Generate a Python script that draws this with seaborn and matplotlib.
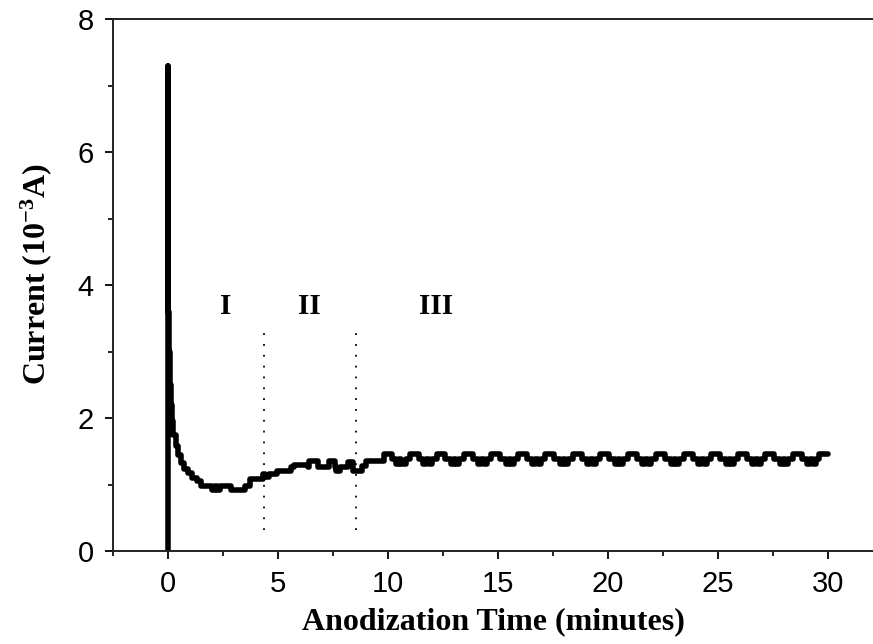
import matplotlib
matplotlib.use("Agg")
import matplotlib.pyplot as plt
import seaborn as sns
import pandas as pd
from matplotlib.ticker import MultipleLocator

# ---- data (time in minutes, current in 1e-3 A) ----
time_min = [
    0.0, 0.0, 0.02, 0.04, 0.08, 0.12, 0.18, 0.25, 0.35, 0.45, 0.6, 0.75, 0.9, 1.1, 1.3,
    1.5, 2.0, 2.15, 2.25, 2.35, 2.85, 3.5, 3.75, 4.3, 4.4, 4.6, 4.95, 5.6, 5.75,
    6.35, 6.4, 6.8, 7.3, 7.6, 7.65, 7.8, 8.2, 8.4, 8.8,
    9.0, 9.8, 10.2, 10.35, 10.5, 10.6, 10.8,
    11.0, 11.4, 11.6, 11.75, 11.85, 12.0,
    12.25, 12.6, 12.85, 13.0, 13.1, 13.25,
    13.45, 13.85, 14.1, 14.25, 14.35, 14.5,
    14.7, 15.1, 15.35, 15.5, 15.6, 15.75,
    15.9, 16.3, 16.55, 16.7, 16.8, 16.95,
    17.15, 17.55, 17.8, 17.95, 18.05, 18.2,
    18.4, 18.8, 19.05, 19.2, 19.3, 19.45,
    19.65, 20.05, 20.3, 20.45, 20.55, 20.7,
    20.9, 21.3, 21.55, 21.7, 21.8, 21.95,
    22.2, 22.6, 22.85, 23.0, 23.1, 23.25,
    23.45, 23.85, 24.1, 24.25, 24.35, 24.5,
    24.7, 25.1, 25.35, 25.5, 25.6, 25.75,
    25.9, 26.3, 26.55, 26.7, 26.8, 26.95,
    27.15, 27.55, 27.8, 27.95, 28.05, 28.2,
    28.4, 28.8, 29.05, 29.2, 29.3, 29.45,
    29.6, 30.0,
]
current = [
    0.0, 7.3, 3.6, 3.0, 2.5, 2.2, 1.95, 1.75, 1.58, 1.45, 1.33, 1.24, 1.17, 1.1, 1.05,
    0.98, 0.91, 0.98, 0.91, 0.98, 0.91, 0.98, 1.08, 1.16, 1.12, 1.16, 1.21, 1.26, 1.3,
    1.26, 1.36, 1.26, 1.36, 1.26, 1.2, 1.26, 1.34, 1.2, 1.28,
    1.35, 1.46, 1.38, 1.31, 1.38, 1.31, 1.38,
    1.46, 1.38, 1.31, 1.38, 1.31, 1.38,
    1.46, 1.38, 1.31, 1.38, 1.31, 1.38,
    1.46, 1.38, 1.31, 1.38, 1.31, 1.38,
    1.46, 1.38, 1.31, 1.38, 1.31, 1.38,
    1.46, 1.38, 1.31, 1.38, 1.31, 1.38,
    1.46, 1.38, 1.31, 1.38, 1.31, 1.38,
    1.46, 1.38, 1.31, 1.38, 1.31, 1.38,
    1.46, 1.38, 1.31, 1.38, 1.31, 1.38,
    1.46, 1.38, 1.31, 1.38, 1.31, 1.38,
    1.46, 1.38, 1.31, 1.38, 1.31, 1.38,
    1.46, 1.38, 1.31, 1.38, 1.31, 1.38,
    1.46, 1.38, 1.31, 1.38, 1.31, 1.38,
    1.46, 1.38, 1.31, 1.38, 1.31, 1.38,
    1.46, 1.38, 1.31, 1.38, 1.31, 1.38,
    1.46, 1.38, 1.31, 1.38, 1.31, 1.38,
    1.46, 1.46,
]

region_labels = ["I", "II", "III"]
region_label_x = [2.64, 6.45, 12.2]
region_label_y = [3.67, 3.67, 3.67]
boundary_x = [4.35, 8.55]
boundary_ymin, boundary_ymax = 0.32, 3.32

x_ticks = [0, 5, 10, 15, 20, 25, 30]
y_ticks = [0, 2, 4, 6, 8]

df = pd.DataFrame({"t": time_min, "I": current})

sns.set_style("ticks")
plt.rcParams["font.family"] = ["Liberation Sans", "DejaVu Sans"]
plt.rcParams.update({
    "text.color": "black", "axes.labelcolor": "black",
    "xtick.color": "black", "ytick.color": "black",
    "mathtext.fontset": "custom",
    "mathtext.rm": "Liberation Serif",
    "mathtext.bf": "Liberation Serif:bold",
    "mathtext.it": "Liberation Serif:italic",
})

fig = plt.figure(figsize=(8.73, 6.44), dpi=100)
ax = fig.add_axes([113 / 873, 1 - 551 / 644, 760 / 873, 532 / 644])

sns.lineplot(data=df, x="t", y="I", ax=ax, estimator=None, sort=False,
             color="black", linewidth=4.0, drawstyle="steps-post")

for bx in boundary_x:
    ax.plot([bx, bx], [boundary_ymin, boundary_ymax], color="black",
            linewidth=1.3, linestyle=(0, (1, 5)))

serif = ["Liberation Serif", "DejaVu Serif"]
for lab, lx, ly in zip(region_labels, region_label_x, region_label_y):
    ax.text(lx, ly, lab, ha="center", va="center", fontsize=21,
            fontweight="bold", family=serif, color="black")

ax.set_xlim(-2.5, 32.05)
ax.set_ylim(0, 8)
ax.set_xticks(x_ticks)
ax.set_yticks(y_ticks)
ax.xaxis.set_minor_locator(MultipleLocator(2.5))
ax.yaxis.set_minor_locator(MultipleLocator(1))
ax.tick_params(which="major", direction="out", length=6, width=1.3,
               labelsize=21, color="black", labelcolor="black", pad=8)
ax.tick_params(which="minor", direction="out", length=3.5, width=1.2, color="black")

for side in ["left", "bottom", "top"]:
    ax.spines[side].set_linewidth(1.4)
    ax.spines[side].set_color("#222222")
ax.spines["right"].set_visible(False)

ax.set_xlabel("Anodization Time (minutes)", fontsize=23, fontweight="bold",
              family=serif, color="black")
ax.set_ylabel("Current (10$^{\\mathbf{-3}}$A)", fontsize=23, fontweight="bold",
              family=serif, color="black")
ax.yaxis.set_label_coords(-0.078, 0.52)
ax.xaxis.set_label_coords(0.5, -0.105)

fig.savefig("out.png", dpi=100)
